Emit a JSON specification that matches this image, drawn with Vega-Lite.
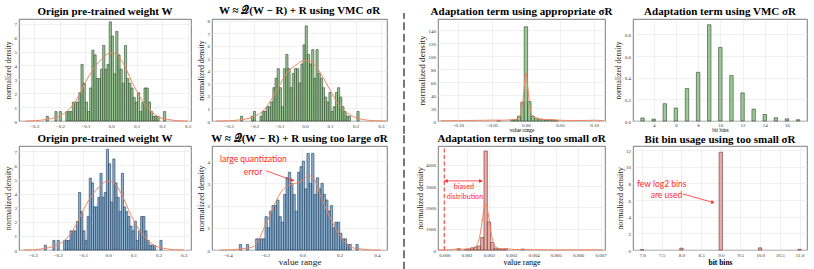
{
"$schema": "https://vega.github.io/schema/vega-lite/v6.json",
"background": "white",
"padding": {"left": 3, "top": 4, "right": 0, "bottom": 0},
"columns": 7,
"bounds": "flush",
"spacing": {"row": 25, "column": 0},
"datasets": {
"b1": [{"x":-0.2535,"x2":-0.245,"y":0.34},{"x":-0.2195,"x2":-0.211,"y":0.68},{"x":-0.2025,"x2":-0.194,"y":0.68},{"x":-0.177,"x2":-0.1685,"y":0.68},{"x":-0.1685,"x2":-0.16,"y":0.68},{"x":-0.16,"x2":-0.1515,"y":0.68},{"x":-0.1515,"x2":-0.143,"y":1.36},{"x":-0.143,"x2":-0.1345,"y":1.36},{"x":-0.1345,"x2":-0.126,"y":1.36},{"x":-0.126,"x2":-0.1175,"y":2.04},{"x":-0.1175,"x2":-0.109,"y":4.08},{"x":-0.109,"x2":-0.1005,"y":2.72},{"x":-0.1005,"x2":-0.092,"y":1.36},{"x":-0.092,"x2":-0.0835,"y":0.68},{"x":-0.0835,"x2":-0.075,"y":2.38},{"x":-0.075,"x2":-0.0665,"y":5.1},{"x":-0.0665,"x2":-0.058,"y":4.76},{"x":-0.058,"x2":-0.0495,"y":3.06},{"x":-0.0495,"x2":-0.041,"y":3.06},{"x":-0.041,"x2":-0.0325,"y":3.74},{"x":-0.0325,"x2":-0.024,"y":5.44},{"x":-0.024,"x2":-0.0155,"y":3.74},{"x":-0.0155,"x2":-0.007,"y":4.08},{"x":-0.007,"x2":0.0015,"y":7.14},{"x":0.0015,"x2":0.01,"y":6.12},{"x":0.01,"x2":0.0185,"y":3.4},{"x":0.0185,"x2":0.027,"y":6.46},{"x":0.027,"x2":0.0355,"y":4.76},{"x":0.0355,"x2":0.044,"y":3.74},{"x":0.044,"x2":0.0525,"y":2.72},{"x":0.0525,"x2":0.061,"y":5.44},{"x":0.061,"x2":0.0695,"y":3.06},{"x":0.0695,"x2":0.078,"y":2.72},{"x":0.078,"x2":0.0865,"y":2.38},{"x":0.0865,"x2":0.095,"y":1.7},{"x":0.095,"x2":0.1035,"y":1.36},{"x":0.1035,"x2":0.112,"y":2.04},{"x":0.112,"x2":0.1205,"y":0.68},{"x":0.1205,"x2":0.129,"y":1.36},{"x":0.129,"x2":0.1375,"y":2.38},{"x":0.1375,"x2":0.146,"y":2.38},{"x":0.146,"x2":0.1545,"y":1.36},{"x":0.1545,"x2":0.163,"y":0.68},{"x":0.163,"x2":0.1715,"y":0.34},{"x":0.1715,"x2":0.18,"y":0.34},{"x":0.18,"x2":0.1885,"y":0.34},{"x":0.2055,"x2":0.214,"y":0.68}],
"b2": [{"x":-0.2535,"x2":-0.245,"y":0.38},{"x":-0.211,"x2":-0.2025,"y":0.38},{"x":-0.2025,"x2":-0.194,"y":0.76},{"x":-0.177,"x2":-0.1685,"y":0.38},{"x":-0.1685,"x2":-0.16,"y":0.76},{"x":-0.16,"x2":-0.1515,"y":0.76},{"x":-0.1515,"x2":-0.143,"y":1.14},{"x":-0.143,"x2":-0.1345,"y":1.14},{"x":-0.1345,"x2":-0.126,"y":1.52},{"x":-0.126,"x2":-0.1175,"y":2.66},{"x":-0.1175,"x2":-0.109,"y":3.42},{"x":-0.109,"x2":-0.1005,"y":4.18},{"x":-0.1005,"x2":-0.092,"y":2.66},{"x":-0.092,"x2":-0.0835,"y":1.14},{"x":-0.0835,"x2":-0.075,"y":4.18},{"x":-0.075,"x2":-0.0665,"y":5.32},{"x":-0.0665,"x2":-0.058,"y":4.18},{"x":-0.058,"x2":-0.0495,"y":2.66},{"x":-0.0495,"x2":-0.041,"y":3.8},{"x":-0.041,"x2":-0.0325,"y":4.18},{"x":-0.0325,"x2":-0.024,"y":4.18},{"x":-0.024,"x2":-0.0155,"y":3.04},{"x":-0.0155,"x2":-0.007,"y":4.56},{"x":-0.007,"x2":0.0015,"y":6.08},{"x":0.0015,"x2":0.01,"y":7.6},{"x":0.01,"x2":0.0185,"y":5.32},{"x":0.0185,"x2":0.027,"y":4.56},{"x":0.027,"x2":0.0355,"y":5.7},{"x":0.0355,"x2":0.044,"y":3.42},{"x":0.044,"x2":0.0525,"y":5.7},{"x":0.0525,"x2":0.061,"y":3.8},{"x":0.061,"x2":0.0695,"y":3.42},{"x":0.0695,"x2":0.078,"y":2.66},{"x":0.078,"x2":0.0865,"y":1.9},{"x":0.0865,"x2":0.095,"y":1.52},{"x":0.095,"x2":0.1035,"y":2.28},{"x":0.1035,"x2":0.112,"y":0.76},{"x":0.112,"x2":0.1205,"y":1.14},{"x":0.1205,"x2":0.129,"y":2.28},{"x":0.129,"x2":0.1375,"y":2.66},{"x":0.1375,"x2":0.146,"y":1.9},{"x":0.146,"x2":0.1545,"y":1.14},{"x":0.1545,"x2":0.163,"y":0.76},{"x":0.163,"x2":0.1715,"y":0.38},{"x":0.1715,"x2":0.18,"y":0.38},{"x":0.2055,"x2":0.214,"y":0.76}],
"b4": [{"x":-0.3375,"x2":-0.325,"y":0.25},{"x":-0.3,"x2":-0.2875,"y":0.25},{"x":-0.25,"x2":-0.2375,"y":0.5},{"x":-0.2375,"x2":-0.225,"y":0.5},{"x":-0.225,"x2":-0.2125,"y":0.5},{"x":-0.2125,"x2":-0.2,"y":0.5},{"x":-0.2,"x2":-0.1875,"y":1.5},{"x":-0.1875,"x2":-0.175,"y":1.0},{"x":-0.175,"x2":-0.1625,"y":1.75},{"x":-0.1625,"x2":-0.15,"y":2.0},{"x":-0.15,"x2":-0.1375,"y":2.0},{"x":-0.1375,"x2":-0.125,"y":2.25},{"x":-0.125,"x2":-0.1125,"y":1.5},{"x":-0.1125,"x2":-0.1,"y":1.25},{"x":-0.1,"x2":-0.0875,"y":2.5},{"x":-0.0875,"x2":-0.075,"y":3.25},{"x":-0.075,"x2":-0.0625,"y":3.5},{"x":-0.0625,"x2":-0.05,"y":3.0},{"x":-0.05,"x2":-0.0375,"y":2.5},{"x":-0.0375,"x2":-0.025,"y":1.75},{"x":-0.025,"x2":-0.0125,"y":3.5},{"x":-0.0125,"x2":0,"y":3.75},{"x":0,"x2":0.0125,"y":4.0},{"x":0.0125,"x2":0.025,"y":2.75},{"x":0.025,"x2":0.0375,"y":4.35},{"x":0.0375,"x2":0.05,"y":3.0},{"x":0.05,"x2":0.0625,"y":4.35},{"x":0.0625,"x2":0.075,"y":2.5},{"x":0.075,"x2":0.0875,"y":3.25},{"x":0.0875,"x2":0.1,"y":2.75},{"x":0.1,"x2":0.1125,"y":3.0},{"x":0.1125,"x2":0.125,"y":2.5},{"x":0.125,"x2":0.1375,"y":2.25},{"x":0.1375,"x2":0.15,"y":1.75},{"x":0.15,"x2":0.1625,"y":2.0},{"x":0.1625,"x2":0.175,"y":1.0},{"x":0.175,"x2":0.1875,"y":1.25},{"x":0.1875,"x2":0.2,"y":1.25},{"x":0.2,"x2":0.2125,"y":0.75},{"x":0.2125,"x2":0.225,"y":0.5},{"x":0.225,"x2":0.2375,"y":0.5},{"x":0.2375,"x2":0.25,"y":0.25},{"x":0.25,"x2":0.2625,"y":0.25},{"x":0.2875,"x2":0.3,"y":0.25}],
"b5": [{"x":-0.0425,"x2":-0.0375,"y":1.0},{"x":-0.0225,"x2":-0.0175,"y":1.5},{"x":-0.0175,"x2":-0.0125,"y":2.0},{"x":-0.0125,"x2":-0.0075,"y":7.5},{"x":-0.0075,"x2":-0.0025,"y":29},{"x":-0.0025,"x2":0.0025,"y":145},{"x":0.0025,"x2":0.0075,"y":30},{"x":0.0075,"x2":0.0125,"y":7.5},{"x":0.0125,"x2":0.0175,"y":4.5},{"x":0.0175,"x2":0.0225,"y":3.0},{"x":0.0225,"x2":0.0275,"y":2.5},{"x":0.0275,"x2":0.0325,"y":1.5},{"x":0.0325,"x2":0.0375,"y":2.0},{"x":0.0375,"x2":0.0425,"y":1.5},{"x":0.0425,"x2":0.0475,"y":1.0}],
"b6": [{"x":2.845,"x2":3.155,"y":0.028},{"x":3.845,"x2":4.155,"y":0.018},{"x":4.845,"x2":5.155,"y":0.16},{"x":5.845,"x2":6.155,"y":0.12},{"x":6.845,"x2":7.155,"y":0.3},{"x":7.845,"x2":8.155,"y":0.45},{"x":8.845,"x2":9.155,"y":0.89},{"x":9.845,"x2":10.155,"y":0.68},{"x":10.845,"x2":11.155,"y":0.42},{"x":11.845,"x2":12.155,"y":0.26},{"x":12.845,"x2":13.155,"y":0.11},{"x":13.845,"x2":14.155,"y":0.06},{"x":14.845,"x2":15.155,"y":0.03},{"x":15.845,"x2":16.155,"y":0.02},{"x":16.845,"x2":17.155,"y":0.012}],
"b7": [{"x":0.00058,"x2":0.00073,"y":60},{"x":0.00088,"x2":0.00103,"y":30},{"x":0.00103,"x2":0.00118,"y":50},{"x":0.00118,"x2":0.00133,"y":100},{"x":0.00133,"x2":0.00148,"y":130},{"x":0.00148,"x2":0.00163,"y":190},{"x":0.00163,"x2":0.00178,"y":590},{"x":0.00178,"x2":0.00193,"y":4650},{"x":0.00193,"x2":0.00208,"y":1320},{"x":0.00208,"x2":0.00223,"y":350},{"x":0.00223,"x2":0.00238,"y":90},{"x":0.00238,"x2":0.00253,"y":60},{"x":0.00253,"x2":0.00268,"y":40},{"x":0.00268,"x2":0.00283,"y":60},{"x":0.00343,"x2":0.00358,"y":40}],
"b8": [{"x":6.9575,"x2":7.0425,"y":0.05},{"x":7.9575,"x2":8.0425,"y":0.22},{"x":8.9575,"x2":9.0425,"y":11.75},{"x":9.9575,"x2":10.0425,"y":0.26},{"x":10.9575,"x2":11.0425,"y":0.08}],
"c1": [{"x":-0.335,"y":0},{"x":-0.296,"y":0.02},{"x":-0.257,"y":0.1},{"x":-0.218,"y":0.25},{"x":-0.198,"y":0.4},{"x":-0.166,"y":0.8},{"x":-0.14,"y":1.4},{"x":-0.113,"y":2.3},{"x":-0.094,"y":3.0},{"x":-0.074,"y":3.6},{"x":-0.055,"y":4.1},{"x":-0.035,"y":4.5},{"x":-0.016,"y":4.8},{"x":0.004,"y":4.9},{"x":0.023,"y":4.75},{"x":0.043,"y":4.3},{"x":0.063,"y":3.6},{"x":0.082,"y":2.8},{"x":0.102,"y":2.1},{"x":0.121,"y":1.5},{"x":0.141,"y":1.0},{"x":0.16,"y":0.65},{"x":0.18,"y":0.35},{"x":0.2,"y":0.2},{"x":0.22,"y":0.12},{"x":0.24,"y":0.06},{"x":0.264,"y":0.02},{"x":0.3,"y":0}],
"c2": [{"x":-0.35,"y":0},{"x":-0.3,"y":0.02},{"x":-0.26,"y":0.08},{"x":-0.22,"y":0.22},{"x":-0.19,"y":0.45},{"x":-0.165,"y":0.8},{"x":-0.145,"y":1.3},{"x":-0.123,"y":2.0},{"x":-0.096,"y":3.0},{"x":-0.07,"y":3.85},{"x":-0.05,"y":4.25},{"x":-0.03,"y":4.55},{"x":-0.01,"y":4.8},{"x":0.008,"y":4.86},{"x":0.028,"y":4.7},{"x":0.048,"y":4.25},{"x":0.074,"y":3.4},{"x":0.1,"y":2.45},{"x":0.127,"y":1.5},{"x":0.153,"y":0.87},{"x":0.179,"y":0.47},{"x":0.205,"y":0.25},{"x":0.23,"y":0.12},{"x":0.26,"y":0.04},{"x":0.3,"y":0.01},{"x":0.32,"y":0}],
"c4": [{"x":-0.44,"y":0},{"x":-0.38,"y":0.01},{"x":-0.34,"y":0.04},{"x":-0.31,"y":0.07},{"x":-0.28,"y":0.1},{"x":-0.25,"y":0.25},{"x":-0.225,"y":0.6},{"x":-0.205,"y":1.0},{"x":-0.185,"y":1.35},{"x":-0.16,"y":1.85},{"x":-0.135,"y":2.3},{"x":-0.11,"y":2.65},{"x":-0.085,"y":2.85},{"x":-0.06,"y":2.95},{"x":-0.04,"y":3.0},{"x":-0.015,"y":3.05},{"x":0.01,"y":3.2},{"x":0.035,"y":3.35},{"x":0.055,"y":3.25},{"x":0.075,"y":3.0},{"x":0.095,"y":2.5},{"x":0.115,"y":2.1},{"x":0.135,"y":1.7},{"x":0.155,"y":1.35},{"x":0.17,"y":1.1},{"x":0.19,"y":0.8},{"x":0.205,"y":0.6},{"x":0.22,"y":0.42},{"x":0.24,"y":0.28},{"x":0.26,"y":0.15},{"x":0.28,"y":0.08},{"x":0.3,"y":0.06},{"x":0.33,"y":0.03},{"x":0.38,"y":0},{"x":0.42,"y":0}],
"c5": [{"x":-0.125,"y":0.4},{"x":-0.1,"y":0.6},{"x":-0.07,"y":1.0},{"x":-0.05,"y":1.3},{"x":-0.035,"y":1.2},{"x":-0.025,"y":1.6},{"x":-0.015,"y":2.5},{"x":-0.01,"y":5},{"x":-0.0075,"y":11},{"x":-0.005,"y":26},{"x":-0.0025,"y":52},{"x":0,"y":74},{"x":0.0025,"y":54},{"x":0.005,"y":29},{"x":0.0075,"y":13},{"x":0.01,"y":7},{"x":0.015,"y":4},{"x":0.02,"y":3},{"x":0.03,"y":2.2},{"x":0.04,"y":1.8},{"x":0.05,"y":1.1},{"x":0.07,"y":0.7},{"x":0.09,"y":0.9},{"x":0.1,"y":1.2},{"x":0.114,"y":0.5}],
"c7": [{"x":-0.00025,"y":0},{"x":0.0002,"y":5},{"x":0.0004,"y":25},{"x":0.0006,"y":55},{"x":0.0008,"y":30},{"x":0.001,"y":45},{"x":0.0012,"y":75},{"x":0.0014,"y":160},{"x":0.0015,"y":320},{"x":0.0016,"y":700},{"x":0.0017,"y":1350},{"x":0.00175,"y":1750},{"x":0.0018,"y":2060},{"x":0.00185,"y":2150},{"x":0.0019,"y":2050},{"x":0.002,"y":1500},{"x":0.0021,"y":800},{"x":0.0022,"y":350},{"x":0.0023,"y":150},{"x":0.0024,"y":80},{"x":0.0026,"y":55},{"x":0.0028,"y":60},{"x":0.003,"y":30},{"x":0.0033,"y":20},{"x":0.0036,"y":35},{"x":0.004,"y":12},{"x":0.005,"y":6},{"x":0.006,"y":5},{"x":0.0066,"y":10},{"x":0.0071,"y":3}]
},
"concat": [
{
 "width": 172, "height": 102,
 "title": "Origin pre-trained weight W",
 "encoding": {
  "x": {"field": "x", "type": "quantitative", "scale": {"domain": [-0.36, 0.313], "nice": false, "zero": false}, "axis": {"values": [-0.3,-0.2,-0.1,0,0.1,0.2,0.3], "format": ".1f", "title": null}},
  "y": {"field": "y", "type": "quantitative", "scale": {"domain": [0, 7.35], "nice": false}, "axis": {"values": [0,1,2,3,4,5,6,7], "format": "d", "title": "normalized density", "titleFontSize": 7.6}}
 },
 "layer": [
  {"data": {"name": "b1"}, "mark": {"type": "bar", "fill": "#8cbf84", "fillOpacity": 0.85, "stroke": "#2b452b", "strokeWidth": 0.6}, "encoding": {"x2": {"field": "x2"}, "y2": {"datum": 0}}},
  {"data": {"name": "c1"}, "mark": {"type": "line", "color": "#f4845f", "strokeWidth": 1, "interpolate": "monotone"}, "encoding": {}}
 ]
},
{"width": 21, "height": 102, "data": {"values": []}, "mark": "point", "view": {"stroke": null}},
{
 "width": 175, "height": 102,
 "title": "W ≈ 𝒬(W − R) + R using VMC σR",
 "encoding": {
  "x": {"field": "x", "type": "quantitative", "scale": {"domain": [-0.366, 0.324], "nice": false, "zero": false}, "axis": {"values": [-0.3,-0.2,-0.1,0,0.1,0.2,0.3], "format": ".1f", "title": null}},
  "y": {"field": "y", "type": "quantitative", "scale": {"domain": [0, 8.15], "nice": false}, "axis": {"values": [0,1,2,3,4,5,6,7,8], "format": "d", "title": "normalized density", "titleFontSize": 7.9}}
 },
 "layer": [
  {"data": {"name": "b2"}, "mark": {"type": "bar", "fill": "#8cbf84", "fillOpacity": 0.85, "stroke": "#2b452b", "strokeWidth": 0.6}, "encoding": {"x2": {"field": "x2"}, "y2": {"datum": 0}}},
  {"data": {"name": "c2"}, "mark": {"type": "line", "color": "#f4845f", "strokeWidth": 1, "interpolate": "monotone"}, "encoding": {}}
 ]
},
{"width": 51, "height": 102, "view": {"stroke": null},
 "data": {"values": [{"x": 0.333, "y": -0.125, "y2": 1.06}]},
 "mark": {"type": "rule", "color": "#777777", "strokeWidth": 2, "strokeDash": [8, 3.5]},
 "encoding": {"x": {"field": "x", "type": "quantitative", "scale": {"domain": [0, 1]}, "axis": null}, "y": {"field": "y", "type": "quantitative", "scale": {"domain": [0, 1]}, "axis": null}, "y2": {"field": "y2"}}
},
{
 "width": 167, "height": 102,
 "title": "Adaptation term using appropriate σR",
 "encoding": {
  "x": {"field": "x", "type": "quantitative", "scale": {"domain": [-0.129, 0.116], "nice": false, "zero": false}, "axis": {"values": [-0.1,-0.05,0,0.05,0.1], "format": ".2f", "title": "value range", "titleFontSize": 5.3, "titlePadding": 0, "labelPadding": 1, "titleColor": "#000000"}},
  "y": {"field": "y", "type": "quantitative", "scale": {"domain": [0, 157], "nice": false}, "axis": {"values": [0,20,40,60,80,100,120,140], "format": "d", "title": "normalized density", "titleFontSize": 9.2}}
 },
 "layer": [
  {"data": {"name": "b5"}, "mark": {"type": "bar", "fill": "#8cbf84", "fillOpacity": 0.85, "stroke": "#2b452b", "strokeWidth": 0.6}, "encoding": {"x2": {"field": "x2"}, "y2": {"datum": 0}}},
  {"data": {"name": "c5"}, "mark": {"type": "line", "color": "#f4845f", "strokeWidth": 1, "interpolate": "monotone"}, "encoding": {}}
 ]
},
{"width": 28, "height": 102, "data": {"values": []}, "mark": "point", "view": {"stroke": null}},
{
 "width": 174, "height": 102,
 "title": "Adaptation term using VMC σR",
 "encoding": {
  "x": {"field": "x", "type": "quantitative", "scale": {"domain": [2.14, 17.8], "nice": false, "zero": false}, "axis": {"values": [4,6,8,10,12,14,16], "format": "d", "title": "bit bins", "titleFontSize": 5.5, "titlePadding": 0, "labelPadding": 1.5, "titleColor": "#000000"}},
  "y": {"field": "y", "type": "quantitative", "scale": {"domain": [0, 0.943], "nice": false}, "axis": {"values": [0,0.2,0.4,0.6,0.8], "format": ".1f", "title": "normalized density", "titleFontSize": 7.6}}
 },
 "layer": [
  {"data": {"name": "b6"}, "mark": {"type": "bar", "fill": "#8cbf84", "fillOpacity": 0.85, "stroke": "#2b452b", "strokeWidth": 0.6}, "encoding": {"x2": {"field": "x2"}, "y2": {"datum": 0}}}
 ]
},
{
 "width": 172, "height": 104,
 "title": "Origin pre-trained weight  W",
 "encoding": {
  "x": {"field": "x", "type": "quantitative", "scale": {"domain": [-0.354, 0.329], "nice": false, "zero": false}, "axis": {"values": [-0.3,-0.2,-0.1,0,0.1,0.2,0.3], "format": ".1f", "title": null}},
  "y": {"field": "y", "type": "quantitative", "scale": {"domain": [0, 7.38], "nice": false}, "axis": {"values": [0,1,2,3,4,5,6,7], "format": "d", "title": "normalized density", "titleFontSize": 8.4}}
 },
 "layer": [
  {"data": {"name": "b1"}, "mark": {"type": "bar", "fill": "#7aa6cc", "fillOpacity": 0.85, "stroke": "#1f3a55", "strokeWidth": 0.6}, "encoding": {"x2": {"field": "x2"}, "y2": {"datum": 0}}},
  {"data": {"name": "c1"}, "mark": {"type": "line", "color": "#f4845f", "strokeWidth": 1, "interpolate": "monotone"}, "encoding": {}}
 ]
},
{"width": 21, "height": 104, "data": {"values": []}, "mark": "point", "view": {"stroke": null}},
{
 "width": 175, "height": 104,
 "title": "W ≈ 𝒬(W − R) + R  using too large σR",
 "encoding": {
  "x": {"field": "x", "type": "quantitative", "scale": {"domain": [-0.484, 0.454], "nice": false, "zero": false}, "axis": {"values": [-0.4,-0.2,0,0.2,0.4], "format": ".1f", "title": "value range", "titleFontSize": 9.2, "titlePadding": 0}},
  "y": {"field": "y", "type": "quantitative", "scale": {"domain": [0, 4.68], "nice": false}, "axis": {"values": [0,1,2,3,4], "format": "d", "title": "normalized density", "titleFontSize": 8.7}}
 },
 "layer": [
  {"data": {"name": "b4"}, "mark": {"type": "bar", "fill": "#7aa6cc", "fillOpacity": 0.85, "stroke": "#1f3a55", "strokeWidth": 0.6}, "encoding": {"x2": {"field": "x2"}, "y2": {"datum": 0}}},
  {"data": {"name": "c4"}, "mark": {"type": "line", "color": "#f4845f", "strokeWidth": 1, "interpolate": "monotone"}, "encoding": {}},
  {"data": {"values": [{"x": -0.262, "y": 4.09, "t": "large quantization"}, {"x": -0.264, "y": 3.52, "t": "error"}]}, "mark": {"type": "text", "font": "Lato", "fontSize": 8.5, "color": "#ff2a2a", "align": "center", "baseline": "middle"}, "encoding": {"text": {"field": "t"}}},
  {"data": {"values": [{"x": -0.195, "y": 3.57, "x2": -0.055, "y2": 3.14}]}, "mark": {"type": "rule", "color": "#ff2a2a", "strokeWidth": 0.8}, "encoding": {"x2": {"field": "x2"}, "y2": {"field": "y2"}}},
  {"data": {"values": [{"x": -0.052, "y": 3.135}]}, "mark": {"type": "point", "shape": "triangle-up", "angle": 109, "filled": true, "size": 16, "color": "#ff2a2a", "opacity": 1}, "encoding": {}}
 ]
},
{"width": 51, "height": 104, "view": {"stroke": null},
 "data": {"values": [{"x": 0.333, "y": -0.19, "y2": 1.115}]},
 "mark": {"type": "rule", "color": "#777777", "strokeWidth": 2, "strokeDash": [8, 3.5]},
 "encoding": {"x": {"field": "x", "type": "quantitative", "scale": {"domain": [0, 1]}, "axis": null}, "y": {"field": "y", "type": "quantitative", "scale": {"domain": [0, 1]}, "axis": null}, "y2": {"field": "y2"}}
},
{
 "width": 167, "height": 104,
 "title": {"text": "Adaptation term using too small σR", "offset": 1.5},
 "encoding": {
  "x": {"field": "x", "type": "quantitative", "scale": {"domain": [-0.00028, 0.0072], "nice": false, "zero": false}, "axis": {"values": [0,0.001,0.002,0.003,0.004,0.005,0.006,0.007], "format": ".3f", "title": "value range", "titleFontSize": 8, "titlePadding": 1, "titleColor": "#000000"}},
  "y": {"field": "y", "type": "quantitative", "scale": {"domain": [0, 4884], "nice": false}, "axis": {"values": [0,1000,2000,3000,4000], "format": "d", "title": "normalized density", "titleFontSize": 8.2}}
 },
 "layer": [
  {"data": {"name": "b7"}, "mark": {"type": "bar", "fill": "#e3a19a", "fillOpacity": 0.85, "stroke": "#6e2e2a", "strokeWidth": 0.6}, "encoding": {"x2": {"field": "x2"}, "y2": {"datum": 0}}},
  {"data": {"name": "c7"}, "mark": {"type": "line", "color": "#f4845f", "strokeWidth": 1, "interpolate": "monotone"}, "encoding": {}},
  {"data": {"values": [{"x": 0, "y": 0, "y2": 4884}]}, "mark": {"type": "rule", "color": "#ff4040", "strokeWidth": 1.1, "strokeDash": [4, 2.5]}, "encoding": {"y2": {"field": "y2"}}},
  {"data": {"values": [{"x": 0, "x2": 0.0017, "y": 3245}]}, "mark": {"type": "rule", "color": "#ff2a2a", "strokeWidth": 0.8}, "encoding": {"x2": {"field": "x2"}}},
  {"data": {"values": [{"x": 0.00008, "y": 3245, "s": "l"}, {"x": 0.00164, "y": 3245, "s": "r"}]}, "mark": {"type": "point", "filled": true, "size": 16, "color": "#ff2a2a", "opacity": 1}, "encoding": {"shape": {"field": "s", "type": "nominal", "scale": {"domain": ["l", "r"], "range": ["triangle-left", "triangle-right"]}, "legend": null}}},
  {"data": {"values": [{"x": 0.00088, "y": 2954, "t": "biased"}, {"x": 0.00093, "y": 2472, "t": "distribution"}]}, "mark": {"type": "text", "font": "Lato", "fontSize": 7.2, "color": "#ff2a2a", "align": "center", "baseline": "middle"}, "encoding": {"text": {"field": "t"}}}
 ]
},
{"width": 28, "height": 104, "data": {"values": []}, "mark": "point", "view": {"stroke": null}},
{
 "width": 174, "height": 104,
 "title": {"text": "Bit bin usage using too small σR", "offset": 1.5},
 "encoding": {
  "x": {"field": "x", "type": "quantitative", "scale": {"domain": [6.77, 11.19], "nice": false, "zero": false}, "axis": {"values": [7,7.5,8,8.5,9,9.5,10,10.5,11], "format": ".1f", "title": "bit bins", "titleFontSize": 7.5, "titleFontWeight": "bold", "titlePadding": 1, "titleColor": "#000000"}},
  "y": {"field": "y", "type": "quantitative", "scale": {"domain": [0, 12.5], "nice": false}, "axis": {"values": [0,2,4,6,8,10,12], "format": "d", "title": "normalized density", "titleFontSize": 8.2}}
 },
 "layer": [
  {"data": {"name": "b8"}, "mark": {"type": "bar", "fill": "#e3a19a", "fillOpacity": 0.85, "stroke": "#6e2e2a", "strokeWidth": 0.6}, "encoding": {"x2": {"field": "x2"}, "y2": {"datum": 0}}},
  {"data": {"values": [{"x": 7.5, "y": 7.96, "t": "few log2 bins"}, {"x": 7.62, "y": 6.6, "t": "are used"}]}, "mark": {"type": "text", "font": "Lato", "fontSize": 8.5, "color": "#ff2a2a", "align": "center", "baseline": "middle"}, "encoding": {"text": {"field": "t"}}},
  {"data": {"values": [{"x": 8.03, "y": 6.75, "x2": 8.79, "y2": 5.73}]}, "mark": {"type": "rule", "color": "#ff2a2a", "strokeWidth": 0.8}, "encoding": {"x2": {"field": "x2"}, "y2": {"field": "y2"}}},
  {"data": {"values": [{"x": 8.8, "y": 5.72}]}, "mark": {"type": "point", "shape": "triangle-up", "angle": 106, "filled": true, "size": 16, "color": "#ff2a2a", "opacity": 1}, "encoding": {}}
 ]
}
],
"config": {
 "view": {"stroke": "#5a5a5a", "strokeWidth": 0.8},
 "axis": {"labelFont": "Liberation Serif", "labelFontSize": 5, "labelColor": "#333333", "titleFont": "Liberation Serif", "titleFontSize": 7, "titleFontWeight": "normal", "titleColor": "#222222", "ticks": false, "domain": false, "gridColor": "#e6e6e6", "gridWidth": 0.6, "labelPadding": 2.5, "titlePadding": 1.5},
 "title": {"font": "Liberation Serif", "fontSize": 11, "fontWeight": "bold", "color": "#000000", "offset": 2.5}
}
}
